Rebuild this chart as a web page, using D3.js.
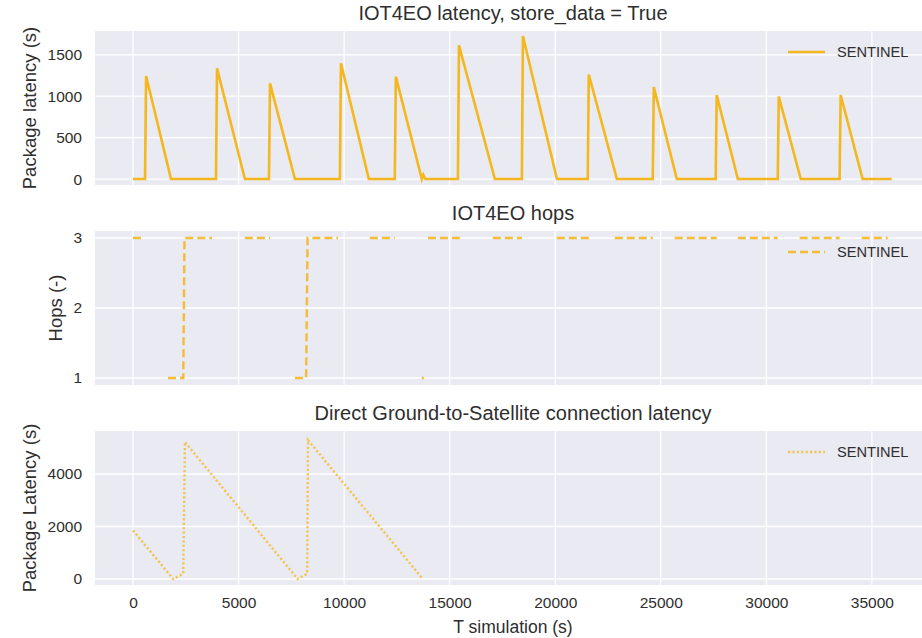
<!DOCTYPE html>
<html>
<head>
<meta charset="utf-8">
<script src="https://cdn.jsdelivr.net/npm/d3@7"></script>
<style>
  body { margin: 0; background: #fff; }
  svg text { font-family: "Liberation Sans", Arial, sans-serif; fill: #2e2e2e; }
</style>
</head>
<body>
<div id="chart"></div>
<script>

// IOT4EO package latency, store_data = True (SENTINEL)
var latencyTime = [0, 570, 620, 1800, 3930, 3980, 5300, 6440, 6490, 7670, 9800, 9850, 11170,
  12400, 12450, 13680, 13750, 13850, 15390, 15440, 17140, 18420, 18470, 20080, 21540, 21590,
  22920, 24620, 24670, 25760, 27600, 27650, 28650, 30540, 30590, 31630, 33470, 33520, 34560, 35940];
var latencyValue = [0, 0, 1244, 0, 0, 1337, 0, 0, 1155, 0, 0, 1397, 0,
  0, 1236, 0, 50, 0, 0, 1615, 0, 0, 1727, 0, 0, 1262,
  0, 0, 1110, 0, 0, 1014, 0, 0, 996, 0, 0, 1014, 0, 0];

// IOT4EO hops, null = no value (gap in the line)
var hopsTime = [0, 470, null, 1660, 2380, 2440, 3740, null, 5300, 6490, null, 7670, 8200, 8270, 9710,
  null, 11220, 12400, null, 13680, 13780, null, 13970, 15480, null, 17045, 18420, null, 20075, 21730,
  null, 22820, 24620, null, 25660, 27650, null, 28650, 30540, null, 31580, 33470, null, 34520, 35750];
var hopsValue = [3, 3, null, 1, 1, 3, 3, null, 3, 3, null, 1, 1, 3, 3,
  null, 3, 3, null, 1, 1, null, 3, 3, null, 3, 3, null, 3, 3,
  null, 3, 3, null, 3, 3, null, 3, 3, null, 3, 3, null, 3, 3];

// Direct Ground-to-Satellite connection latency
var directTime = [0, 1900, 2380, 2460, 7800, 8250, 8290, 13730];
var directValue = [1850, 0, 200, 5220, 0, 200, 5290, 0];

var xTicks = [0, 5000, 10000, 15000, 20000, 25000, 30000, 35000];
var latencyTicks = [0, 500, 1000, 1500];
var hopsTicks = [1, 2, 3];
var directTicks = [0, 2000, 4000];

var seriesName = "SENTINEL";
var lineColor = "#f5b71f";

var width = 922, height = 638,
    plotLeft = 95, plotRight = 931;

var svg = d3.select("#chart").append("svg")
  .attr("width", width)
  .attr("height", height);

var xScale = d3.scaleLinear()
  .domain([-1800, 37800])
  .range([plotLeft, plotRight]);

function toPoints(ts, vs) {
  return ts.map(function(t, i) { return {t: t, v: vs[i]}; });
}

function styleTicks(sel) {
  sel.select(".domain").remove();
  sel.selectAll("text").attr("font-size", "15.5px").attr("fill", "#2e2e2e")
    .attr("font-family", "Liberation Sans, Arial, sans-serif");
}

function drawPanel(p) {
  var yScale = d3.scaleLinear().domain(p.domain).range([p.bottom, p.top]);

  var g = svg.append("g").attr("class", "panel");

  g.append("clipPath").attr("id", p.id + "-clip")
    .append("rect")
    .attr("x", plotLeft).attr("y", p.top)
    .attr("width", plotRight - plotLeft).attr("height", p.bottom - p.top);

  g.append("rect")
    .attr("x", plotLeft).attr("y", p.top)
    .attr("width", plotRight - plotLeft).attr("height", p.bottom - p.top)
    .attr("fill", "#eaeaf2");

  // grid
  g.selectAll(".vgrid").data(xTicks).enter().append("line")
    .attr("x1", d => xScale(d)).attr("x2", d => xScale(d))
    .attr("y1", p.top).attr("y2", p.bottom)
    .attr("stroke", "#fff").attr("stroke-width", 1.3);
  g.selectAll(".hgrid").data(p.ticks).enter().append("line")
    .attr("x1", plotLeft).attr("x2", plotRight)
    .attr("y1", d => yScale(d)).attr("y2", d => yScale(d))
    .attr("stroke", "#fff").attr("stroke-width", 1.3);

  var yAxis = d3.axisLeft(yScale).tickValues(p.ticks)
    .tickFormat(d3.format("d")).tickSize(0).tickPadding(13);
  g.append("g")
    .attr("transform", `translate(${plotLeft},0)`)
    .call(yAxis)
    .call(styleTicks);

  if (p.showX) {
    var xAxis = d3.axisBottom(xScale).tickValues(xTicks)
      .tickFormat(d3.format("d")).tickSize(0).tickPadding(12);
    g.append("g")
      .attr("transform", `translate(0,${p.bottom})`)
      .call(xAxis)
      .call(styleTicks);

    g.append("text")
      .attr("x", (plotLeft + plotRight) / 2).attr("y", 633)
      .attr("text-anchor", "middle")
      .attr("font-size", "17.5px")
      .text("T simulation (s)");
  }

  var line = d3.line()
    .defined(d => d.t !== null && d.v !== null)
    .x(d => xScale(d.t))
    .y(d => yScale(d.v));

  g.append("path")
    .datum(toPoints(p.times, p.values))
    .attr("d", line)
    .attr("clip-path", `url(#${p.id}-clip)`)
    .attr("fill", "none")
    .attr("stroke", lineColor)
    .attr("stroke-width", p.lw)
    .attr("stroke-opacity", p.opacity)
    .attr("stroke-dasharray", p.dash);

  // title
  g.append("text")
    .attr("x", (plotLeft + plotRight) / 2).attr("y", p.top - 11)
    .attr("text-anchor", "middle")
    .attr("font-size", "20px")
    .text(p.title);

  // y label
  g.append("text")
    .attr("transform", `translate(${p.labelX},${(p.top + p.bottom) / 2}) rotate(-90)`)
    .attr("text-anchor", "middle")
    .attr("font-size", "18.5px")
    .text(p.ylabel);

  // legend
  g.append("line")
    .attr("x1", 788).attr("x2", 825)
    .attr("y1", p.top + 21).attr("y2", p.top + 21)
    .attr("stroke", lineColor).attr("stroke-width", p.lw)
    .attr("stroke-opacity", p.opacity)
    .attr("stroke-dasharray", p.dash);
  g.append("text")
    .attr("x", 837).attr("y", p.top + 26)
    .attr("font-size", "14.6px")
    .text(seriesName);
}

drawPanel({id: "lat", top: 31, bottom: 185, domain: [-72, 1787], ticks: latencyTicks,
  times: latencyTime, values: latencyValue, dash: null, lw: 2.6, opacity: 1,
  title: "IOT4EO latency, store_data = True", ylabel: "Package latency (s)", labelX: 36});

drawPanel({id: "hops", top: 231, bottom: 385, domain: [0.9, 3.1], ticks: hopsTicks,
  times: hopsTime, values: hopsValue, dash: "8,4", lw: 2.4, opacity: 0.9,
  title: "IOT4EO hops", ylabel: "Hops (-)", labelX: 62});

drawPanel({id: "direct", top: 431, bottom: 585, domain: [-229, 5638], ticks: directTicks,
  times: directTime, values: directValue, dash: "2.2,2.2", lw: 2.4, opacity: 0.75,
  title: "Direct Ground-to-Satellite connection latency", ylabel: "Package Latency (s)", labelX: 36, showX: true});

</script>
</body>
</html>
